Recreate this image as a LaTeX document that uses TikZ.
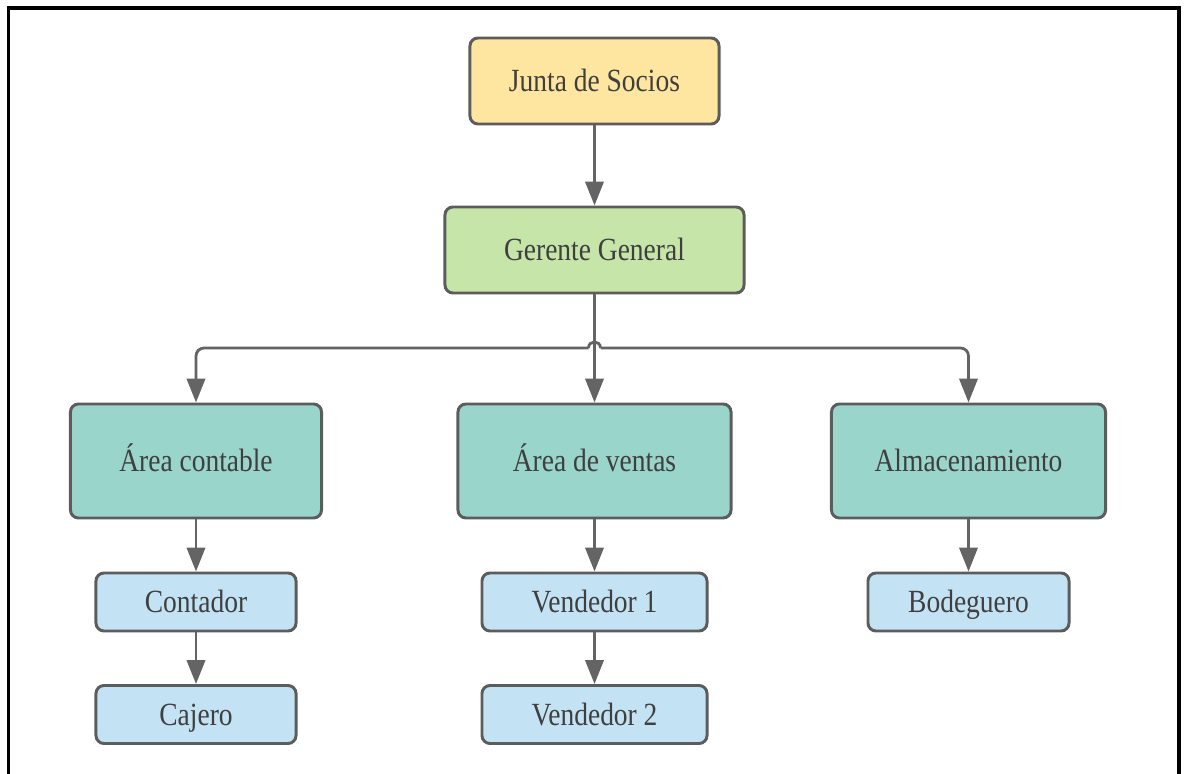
\documentclass[tikz,border=0pt]{standalone}
\usepackage{fontspec}
\setmainfont{Liberation Serif}[FakeStretch=0.85]
\usepackage{xcolor}
\usepackage{tikz}
\usetikzlibrary{arrows.meta}
\definecolor{socios}{HTML}{FEE6A0}
\definecolor{gerente}{HTML}{C6E5A8}
\definecolor{area}{HTML}{99D5CA}
\definecolor{cargo}{HTML}{C3E3F5}
\definecolor{borde}{HTML}{5C5C5C}
\definecolor{texto}{HTML}{3F3F3F}
\begin{document}
\begin{tikzpicture}[x=0.025cm,y=-0.025cm,
  caja/.style={draw=borde,line width=2.1pt,rounded corners=0.2cm,inner sep=0pt,
    text=texto,font=\fontsize{23}{26}\selectfont,text height=18pt,text depth=3pt,
    minimum height=2.15cm},
  conn/.style={draw=borde!95,line width=2pt,-{Triangle[width=13pt,length=17pt]}}]
\useasboundingbox (0,0) rectangle (1184,774);
\draw[line width=2.5pt](8.5,774)--(8.5,8)--(1179,8)--(1179,774);
\node[caja,fill=socios,minimum width=6.225cm](jun) at (594.5,81){Junta de Socios};
\node[caja,fill=gerente,minimum width=7.475cm](ger) at (594.5,250){Gerente General};
\node[caja,fill=area,minimum width=6.275cm,minimum height=2.85cm](con) at (196,461){Área contable};
\node[caja,fill=area,minimum width=6.825cm,minimum height=2.85cm](ven) at (594.5,461){Área de ventas};
\node[caja,fill=area,minimum width=6.85cm,minimum height=2.85cm](alm) at (968.5,461){Almacenamiento};
\node[caja,fill=cargo,minimum width=5cm,minimum height=1.45cm](cont) at (196,602){Contador};
\node[caja,fill=cargo,minimum width=5cm,minimum height=1.45cm](caj) at (196,714.5){Cajero};
\node[caja,fill=cargo,minimum width=5.625cm,minimum height=1.45cm](ven1) at (594.5,602){Vendedor 1};
\node[caja,fill=cargo,minimum width=5.625cm,minimum height=1.45cm](ven2) at (594.5,714.5){Vendedor 2};
\node[caja,fill=cargo,minimum width=5.025cm,minimum height=1.45cm](bod) at (968.5,602){Bodeguero};
\coordinate(bus) at (594.5,348);
\draw[conn](jun)--(ger);
\draw[conn](ger)--(ven);
\draw[conn,rounded corners=0.2cm]([xshift=-0.15cm]bus)-|(con.north);
\draw[conn,rounded corners=0.2cm]([xshift=0.15cm]bus)-|(alm.north);
\draw[draw=borde!95,line width=2pt]([xshift=-0.15cm]bus)..controls +(0,0.2cm) and +(0,0.2cm)..([xshift=0.15cm]bus);
\draw[conn](con)--(cont);
\draw[conn](cont)--(caj);
\draw[conn](ven)--(ven1);
\draw[conn](ven1)--(ven2);
\draw[conn](alm)--(bod);
\end{tikzpicture}
\end{document}
